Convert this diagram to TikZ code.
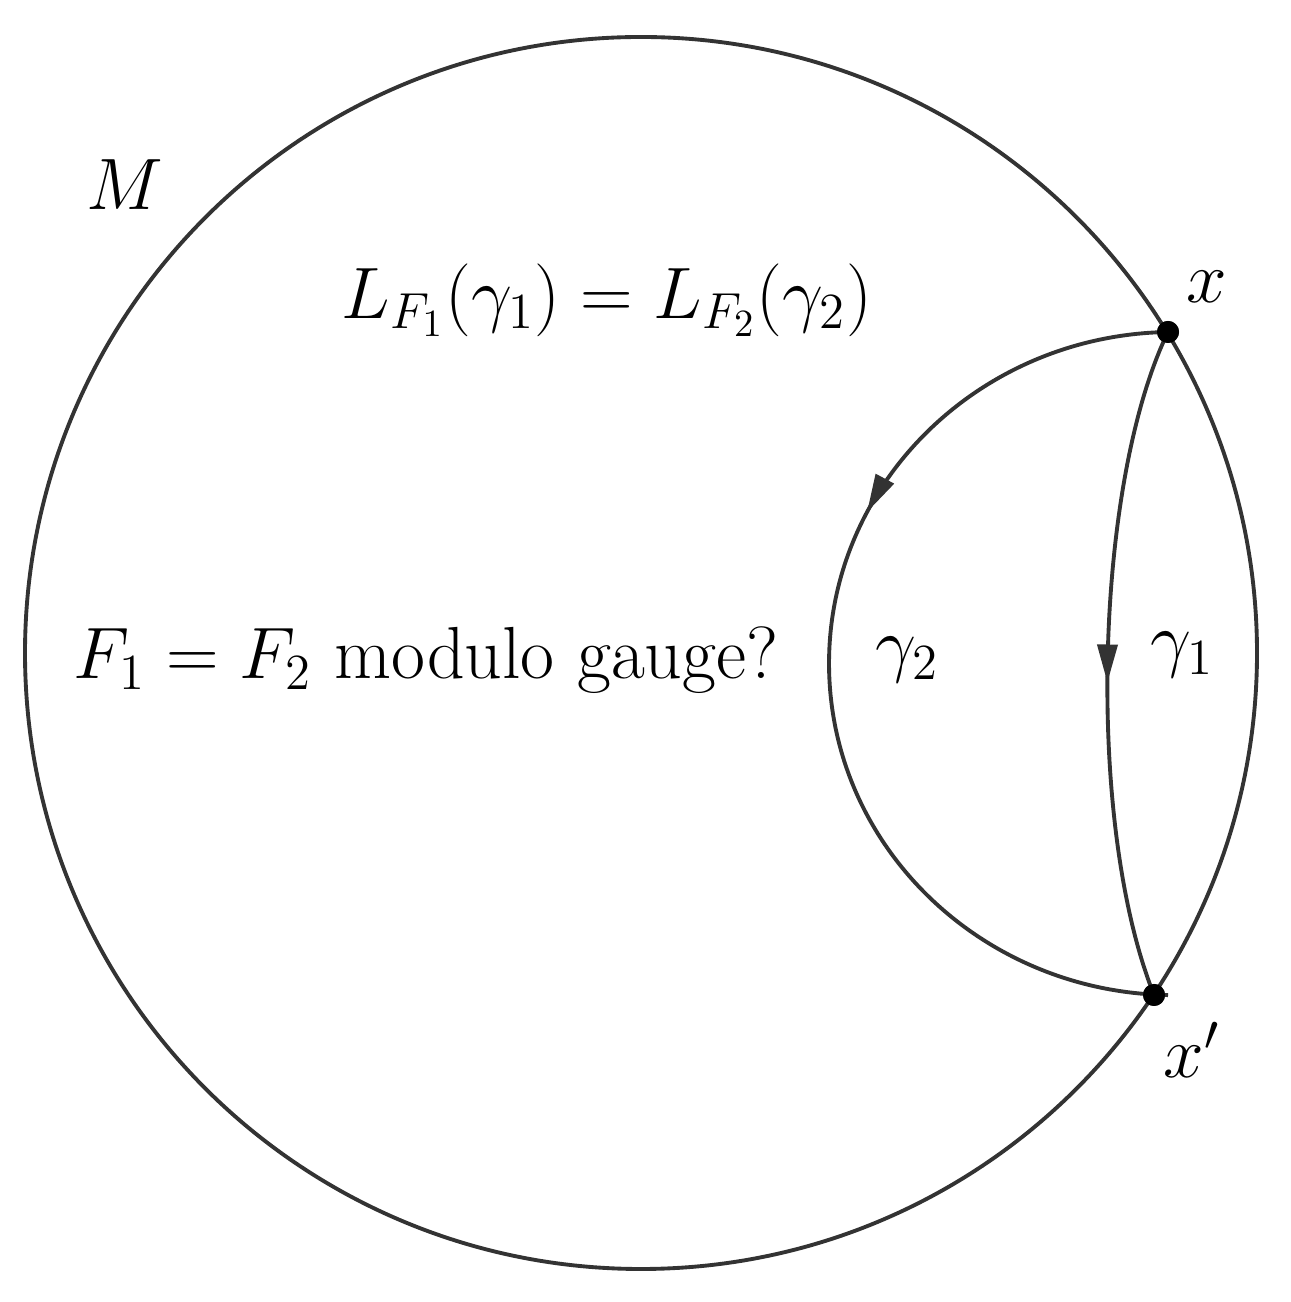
\documentclass[tikz,border=0pt]{standalone}
\usetikzlibrary{decorations.markings,arrows.meta}
\begin{document}
\begin{tikzpicture}[
  curve/.style={line width=1.1pt, draw=black!80},
  lbl/.style={font=\fontsize{21}{25}\selectfont, inner sep=0pt},
  dot/.style={circle, fill=black, inner sep=0pt, minimum size=0.22cm},
  arrmark/.style={postaction={decorate}, decoration={markings, mark=at position #1 with {\arrow{Triangle[length=0.38cm,width=0.2cm]}}}}
]
\useasboundingbox (0,0) rectangle (12.9,13.02);
\node (c) at (6.41,6.49) {};
\draw[curve] (c.center) circle (6.16);
\node[dot] (x) at (11.68,9.70) {};
\node[dot] (xp) at (11.54,3.07) {};
\draw[curve, arrmark=0.35] (x.center) arc[start angle=91, end angle=269, x radius=3.45, y radius=3.316];
\draw[curve, arrmark=0.53] (x.center) .. controls (10.95,8.2) and (10.85,4.8) .. (xp.center);
\node[dot] at (x) {};
\node[dot] at (xp) {};
\node[lbl] (M) at (1.25,11.17) {$M$};
\node[lbl] (L) at (6.07,10.02) {$L_{F_1}(\gamma_1)=L_{F_2}(\gamma_2)$};
\node[lbl] (F) at (4.26,6.42) {$F_1=F_2$ modulo gauge?};
\node[lbl] (g2) at (9.07,6.42) {$\gamma_2$};
\node[lbl] (g1) at (11.82,6.47) {$\gamma_1$};
\node[lbl] (xl) at (12.07,10.15) {$x$};
\node[lbl] (xpl) at (11.92,2.52) {$x'$};
\end{tikzpicture}
\end{document}
